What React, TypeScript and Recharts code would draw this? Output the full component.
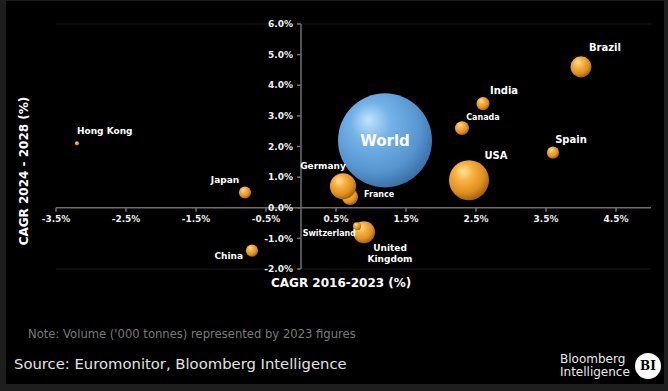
import React from "react";
import {ScatterChart, Scatter, XAxis, YAxis, ZAxis, CartesianGrid, ReferenceLine, ReferenceDot} from "recharts";

// 2023 volume ('000 tonnes) drives bubble area
const markets = ["World", "Hong Kong", "Japan", "China", "France", "Germany", "United Kingdom", "Switzerland", "USA", "Canada", "India", "Spain", "Brazil"];
const cagr2016to2023 = [1.2, -3.2, -0.8, -0.7, 0.7, 0.6, 0.9, 0.8, 2.4, 2.3, 2.6, 3.6, 4.0];
const cagr2024to2028 = [2.2, 2.1, 0.5, -1.4, 0.35, 0.7, -0.8, -0.6, 0.9, 2.6, 3.4, 1.8, 4.6];
const volume2023 = [7000, 14, 115, 115, 205, 540, 385, 50, 1270, 155, 135, 115, 350];

const xTicks = [-3.5, -2.5, -1.5, -0.5, 0.5, 1.5, 2.5, 3.5, 4.5];
const yTicks = [-2, -1, 0, 1, 2, 3, 4, 5, 6];

const data = markets.map((name, i) => ({
  name,
  x: cagr2016to2023[i],
  y: cagr2024to2028[i],
  z: volume2023[i],
}));

// where each label sits relative to its bubble centre
const labelPlacement: Record<string, {dx: number; dy: number; size: number; anchor: string}> = {
  "Hong Kong": {dx: 0, dy: -9, size: 9, anchor: "start"},
  Japan: {dx: -20, dy: -9, size: 9, anchor: "middle"},
  China: {dx: -9, dy: 8, size: 9, anchor: "end"},
  France: {dx: 14, dy: 0, size: 8, anchor: "start"},
  Germany: {dx: -20, dy: -17, size: 9, anchor: "middle"},
  Switzerland: {dx: -1, dy: 10, size: 8, anchor: "end"},
  USA: {dx: 27, dy: -21, size: 10, anchor: "middle"},
  Canada: {dx: 21, dy: -8, size: 8, anchor: "middle"},
  India: {dx: 21, dy: -10, size: 10, anchor: "middle"},
  Spain: {dx: 18, dy: -10, size: 10, anchor: "middle"},
  Brazil: {dx: 24, dy: -16, size: 10, anchor: "middle"},
};

const FONT = "'DejaVu Sans', Verdana, sans-serif";
const AXIS = "#6f6f6f";

function Bubble(props: any) {
  const {cx, cy, width, payload} = props;
  const r = width / 2;
  const fill = payload.name === "World" ? "url(#worldBall)" : "url(#countryBall)";
  return <circle cx={cx} cy={cy} r={r} fill={fill} />;
}

function BubbleLabel(props: any) {
  const {cx, cy, payload} = props;
  const name = payload.name;
  if (name === "World") {
    return (
      <text x={cx} y={cy} dy="0.36em" textAnchor="middle" fill="#fff" fontSize={15} fontWeight="bold" fontFamily={FONT}>
        World
      </text>
    );
  }
  if (name === "United Kingdom") {
    return (
      <text textAnchor="middle" fill="#fff" fontSize={9} fontWeight="bold" fontFamily={FONT}>
        <tspan x={cx + 26} y={cy + 19}>United</tspan>
        <tspan x={cx + 26} y={cy + 30}>Kingdom</tspan>
      </text>
    );
  }
  const p = labelPlacement[name];
  return (
    <text x={cx + p.dx} y={cy + p.dy} textAnchor={p.anchor as any} fill="#fff" fontSize={p.size} fontWeight="bold" fontFamily={FONT}>
      {name}
    </text>
  );
}

function XTick(props: any, label: string) {
  const {cx, cy} = props;
  return (
    <g>
      <line x1={cx} y1={cy} x2={cx} y2={cy + 4} stroke={AXIS} strokeWidth={1.5} />
      <text x={cx} y={cy + 14} textAnchor="middle" fill="#f0f0f0" fontSize={9} fontWeight="bold" fontFamily={FONT}>
        {label}
      </text>
    </g>
  );
}

function YTick(props: any, label: string) {
  const {cx, cy} = props;
  return (
    <g>
      <line x1={cx - 4} y1={cy} x2={cx} y2={cy} stroke={AXIS} strokeWidth={1.5} />
      <text x={cx - 8} y={cy} dy="0.35em" textAnchor="end" fill="#f0f0f0" fontSize={9} fontWeight="bold" fontFamily={FONT}>
        {label}
      </text>
    </g>
  );
}

export default function App() {
  return (
    <div style={{position: "absolute", left: 0, top: 0, width: 668, height: 391, background: "#1e1e1e", fontFamily: FONT, overflow: "hidden"}}>
      <div style={{position: "absolute", left: 6, top: 1, width: 658, height: 383, background: "#000"}} />

      <div style={{position: "absolute", left: 0, top: 0}}>
        <ScatterChart width={668} height={391} margin={{top: 24, right: 17, bottom: 122, left: 56}}>
          <defs>
            <radialGradient id="countryBall" cx="40%" cy="35%" r="70%" fx="35%" fy="28%">
              <stop offset="0%" stopColor="#ffe6a0" />
              <stop offset="30%" stopColor="#f8b445" />
              <stop offset="70%" stopColor="#e08f20" />
              <stop offset="100%" stopColor="#94570a" />
            </radialGradient>
            <radialGradient id="worldBall" cx="42%" cy="38%" r="70%" fx="32%" fy="28%">
              <stop offset="0%" stopColor="#c2e3fa" />
              <stop offset="30%" stopColor="#74b3e8" />
              <stop offset="70%" stopColor="#5694cf" />
              <stop offset="100%" stopColor="#2f6399" />
            </radialGradient>
          </defs>
          <CartesianGrid vertical={false} stroke="#191919" />
          <XAxis type="number" dataKey="x" domain={[-3.5, 5]} ticks={xTicks} height={0} tick={false} axisLine={false} tickLine={false} />
          <YAxis type="number" dataKey="y" domain={[-2, 6]} ticks={yTicks} width={0} tick={false} axisLine={false} tickLine={false} />
          <ZAxis type="number" dataKey="z" domain={[0, 7000]} range={[0, 6940]} />
          <ReferenceLine y={0} stroke={AXIS} strokeWidth={1.5} />
          <ReferenceLine x={0} stroke={AXIS} strokeWidth={1.5} />
          {xTicks.map((t) => (
            <ReferenceDot key={"x" + t} x={t} y={0} r={0} shape={(p: any) => XTick(p, `${t.toFixed(1)}%`)} />
          ))}
          {yTicks.map((t) => (
            <ReferenceDot key={"y" + t} x={0} y={t} r={0} shape={(p: any) => YTick(p, `${t.toFixed(1)}%`)} />
          ))}
          <Scatter data={data} shape={Bubble} isAnimationActive={false} />
          <Scatter data={data} shape={BubbleLabel} isAnimationActive={false} />
        </ScatterChart>
      </div>

      <div style={{position: "absolute", left: 271, top: 276, color: "#fff", fontSize: 12, fontWeight: "bold", whiteSpace: "nowrap"}}>
        CAGR 2016-2023 (%)
      </div>
      <div
        style={{
          position: "absolute",
          left: 24,
          top: 171,
          color: "#fff",
          fontSize: 12,
          fontWeight: "bold",
          whiteSpace: "nowrap",
          transform: "translate(-50%, -50%) rotate(-90deg)",
        }}
      >
        CAGR 2024 - 2028 (%)
      </div>
      <div style={{position: "absolute", left: 28, top: 327, color: "#7a7a7a", fontSize: 11.6, whiteSpace: "nowrap"}}>
        Note: Volume ('000 tonnes) represented by 2023 figures
      </div>
      <div style={{position: "absolute", left: 14, top: 355, color: "#e2e2e2", fontSize: 14.8, whiteSpace: "nowrap"}}>
        Source: Euromonitor, Bloomberg Intelligence
      </div>
      <div style={{position: "absolute", left: 560, top: 353, color: "#e8e8e8", fontSize: 12, lineHeight: "13px", whiteSpace: "nowrap"}}>
        Bloomberg
        <br />
        Intelligence
      </div>
      <div
        style={{
          position: "absolute",
          left: 635,
          top: 353,
          width: 26,
          height: 26,
          borderRadius: "50%",
          background: "#fff",
          color: "#000",
          fontSize: 12,
          fontWeight: "bold",
          fontFamily: "'DejaVu Serif', serif",
          display: "flex",
          alignItems: "center",
          justifyContent: "center",
        }}
      >
        BI
      </div>
    </div>
  );
}
